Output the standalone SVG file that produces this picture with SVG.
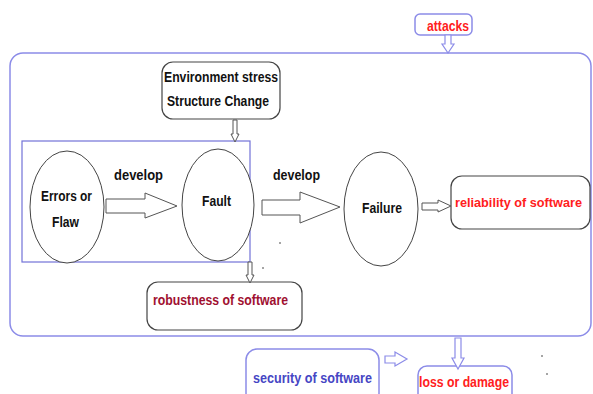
<svg xmlns="http://www.w3.org/2000/svg" width="593" height="394" viewBox="0 0 593 394">
<style>
text{font-family:"Liberation Sans",Arial,sans-serif;font-weight:bold;font-size:15px;text-anchor:start}
.blk{fill:#111}
.red{fill:#ff2020}
.dred{fill:#a01030}
.blu{fill:#4646c4}
.ell{fill:#fff;stroke:#444;stroke-width:1}
.gbox{fill:#fff;stroke:#444;stroke-width:1.2}
.bbox{fill:#fff;stroke:#8c8ce8;stroke-width:1.5}
.garr{fill:#fff;stroke:#555;stroke-width:1}
.barr{fill:#fff;stroke:#8c8ce8;stroke-width:1.2}
</style>
<rect width="593" height="394" fill="#fff"/>
<g id="system">
<rect x="10" y="53" width="581" height="283" rx="13" fill="none" stroke="#8c8ce8" stroke-width="1.5"/>
</g>
<g id="robust-zone">
<rect x="22" y="141" width="228" height="121" fill="none" stroke="#7272d8" stroke-width="1.2"/>
</g>
<g id="attacks">
<rect x="415" y="14" width="57" height="21" rx="5" class="bbox"/>
<text x="427" y="31" class="red" textLength="42" lengthAdjust="spacingAndGlyphs">attacks</text>
</g>
<g id="env">
<rect x="162" y="62" width="118" height="57" rx="11" class="gbox"/>
<text x="164" y="82" class="blk" textLength="114" lengthAdjust="spacingAndGlyphs">Environment stress</text>
<text x="167" y="106" class="blk" textLength="102" lengthAdjust="spacingAndGlyphs">Structure Change</text>
</g>
<g id="errors">
<ellipse cx="67" cy="207" rx="37" ry="56" class="ell"/>
<text x="41" y="201" class="blk" textLength="51" lengthAdjust="spacingAndGlyphs">Errors or</text>
<text x="52" y="227" class="blk" textLength="27" lengthAdjust="spacingAndGlyphs">Flaw</text>
</g>
<g id="fault">
<ellipse cx="218" cy="205" rx="36" ry="56" class="ell"/>
<text x="202" y="206" class="blk" textLength="29" lengthAdjust="spacingAndGlyphs">Fault</text>
</g>
<g id="failure">
<ellipse cx="381" cy="209" rx="37" ry="57" class="ell"/>
<text x="362" y="213" class="blk" textLength="40" lengthAdjust="spacingAndGlyphs">Failure</text>
</g>
<g id="reliability">
<rect x="451" y="176" width="139" height="53" rx="11" class="gbox"/>
<text x="455" y="207" class="red" style="font-size:13px" textLength="127" lengthAdjust="spacingAndGlyphs">reliability of software</text>
</g>
<g id="robustness">
<rect x="147" y="282" width="155" height="48" rx="11" class="gbox"/>
<text x="153" y="305" class="dred" textLength="135" lengthAdjust="spacingAndGlyphs">robustness of software</text>
</g>
<g id="security">
<rect x="246" y="349" width="133" height="55" rx="11" class="bbox"/>
<text x="253" y="383" class="blu" textLength="119" lengthAdjust="spacingAndGlyphs">security of software</text>
</g>
<g id="loss">
<rect x="418" y="366" width="94" height="40" rx="9" class="bbox"/>
<text x="419" y="387" class="red" textLength="90" lengthAdjust="spacingAndGlyphs">loss or damage</text>
</g>
<g id="connectors">
<polygon points="106,199 145,199 145,193 177,206 145,218 145,213 106,213" class="garr"/>
<text x="114" y="180" class="blk" textLength="49" lengthAdjust="spacingAndGlyphs">develop</text>
<polygon points="262,200 300,200 300,192 340,207 300,223 300,215 262,215" class="garr"/>
<text x="273" y="180" class="blk" textLength="47" lengthAdjust="spacingAndGlyphs">develop</text>
<polygon points="422,203 438,203 438,200 451,206 438,212 438,210 422,210" class="garr"/>
<polygon points="233,120 237,120 237,134 239,134 235,142 231,134 233,134" class="garr"/>
<polygon points="248,262 252,262 252,275 254,275 250,283 246,275 248,275" class="garr"/>
<polygon points="445,35 451,35 451,44 454,44 448,53 442,44 445,44" class="barr"/>
<polygon points="455,338 461,338 461,358 464,358 458,369 452,358 455,358" class="barr"/>
<polygon points="385,356 395,356 395,352 407,359 395,366 395,363 385,363" class="barr"/>
</g>
<g id="dots" fill="#333">
<circle cx="280" cy="243" r="0.8"/>
<circle cx="263" cy="268" r="0.8"/>
<circle cx="542" cy="356" r="0.8"/>
<circle cx="547" cy="374" r="0.8"/>
</g>
</svg>
